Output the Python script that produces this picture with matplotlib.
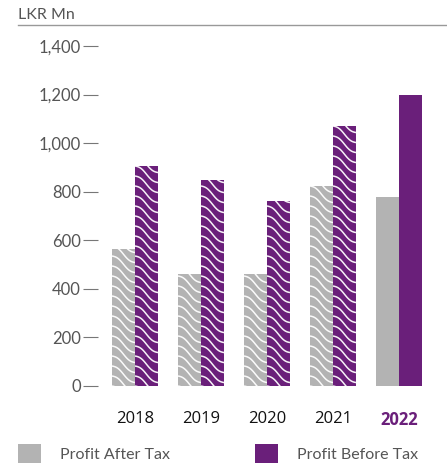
import numpy as np
import matplotlib.pyplot as plt
from matplotlib.lines import Line2D
from matplotlib.patches import Patch
from matplotlib.collections import LineCollection

years = ['2018', '2019', '2020', '2021', '2022']
profit_after_tax = [565, 460, 460, 825, 778]
profit_before_tax = [906, 850, 762, 1072, 1200]
wavy = [True, True, True, True, False]

grey = '#b3b3b3'
purple = '#6a1f7a'
text_grey = '#555555'

plt.rcParams['font.family'] = ['Lato', 'DejaVu Sans']

W, H = 447, 466
fig = plt.figure(figsize=(W / 100, H / 100), dpi=100)

# axes box in pixels: left 98, bottom 386, 342 wide, 340 tall
ax_l, ax_b, ax_w, ax_h = 98, 386, 342, 340
ax = fig.add_axes([ax_l / W, (H - ax_b) / H, ax_w / W, ax_h / H])

group_px = 66
first_px = 37
x_lo = -first_px / group_px
x_hi = x_lo + ax_w / group_px
y_max = 1400
sx = 1 / group_px          # data units per pixel, x
sy = y_max / ax_h          # data units per pixel, y
bw = 23 * sx

x = np.arange(len(years))
bars_pat = ax.bar(x - bw / 2, profit_after_tax, bw, color=grey, linewidth=0)
bars_pbt = ax.bar(x + bw / 2, profit_before_tax, bw, color=purple, linewidth=0)


def wave_lines(bar):
    # white wavy stripes, built in pixel units then mapped to data units
    left = bar.get_x()
    top_px = bar.get_height() / sy
    X = np.linspace(0, 23, 60)
    segs = []
    for c in np.arange(-10, top_px + 30, 10):
        Y = c - 0.72 * X + 1.9 * np.sin(2 * np.pi * X / 23)
        segs.append(np.column_stack([left + X * sx, Y * sy]))
    lc = LineCollection(segs, colors='white', linewidths=1.1, alpha=0.95)
    ax.add_collection(lc)
    lc.set_clip_path(bar)


for i, flag in enumerate(wavy):
    if flag:
        wave_lines(bars_pat[i])
        wave_lines(bars_pbt[i])

ax.set_xlim(x_lo, x_hi)
ax.set_ylim(0, y_max)
for s in ax.spines.values():
    s.set_visible(False)

yt = np.arange(0, 1401, 200)
ax.set_yticks(yt)
ax.set_yticklabels([f'{v:,}' for v in yt])
ax.tick_params(axis='y', length=10.5, width=0.8, color='#777777', pad=2,
               labelsize=12, labelcolor=text_grey)
ax.set_xticks(x)
ax.set_xticklabels(years)
ax.tick_params(axis='x', length=0, pad=18, labelsize=12)
for i, lab in enumerate(ax.get_xticklabels()):
    lab.set_family(['Open Sans', 'DejaVu Sans'])
    if i == len(years) - 1:
        lab.set_fontweight('bold')
        lab.set_color(purple)
    else:
        lab.set_fontweight('medium')
        lab.set_color('#111111')

fig.text(18 / W, 1 - 15 / H, 'LKR Mn', fontsize=11.5, color=text_grey, va='center')
fig.add_artist(Line2D([18 / W, 1], [1 - 25 / H] * 2, color='#999999', lw=1))

handles = [Patch(facecolor=grey, linewidth=0), Patch(facecolor=purple, linewidth=0)]
fig.legend(handles, ['Profit After Tax', 'Profit Before Tax'], loc='lower left',
           bbox_to_anchor=(18 / W, 3 / H), ncol=2, frameon=False, fontsize=11.5,
           labelcolor=text_grey, handlelength=1.44, handleheight=1.44,
           handletextpad=1.19, columnspacing=5.3, borderpad=0, borderaxespad=0)

fig.savefig('out.png', dpi=100)
